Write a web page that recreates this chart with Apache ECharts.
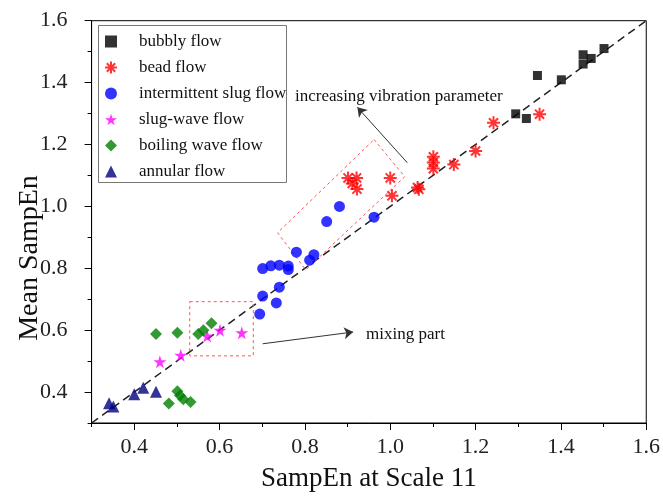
<!DOCTYPE html>
<html><head><meta charset="utf-8">
<script src="https://cdn.jsdelivr.net/npm/echarts@6/dist/echarts.min.js"></script>
<style>html,body{margin:0;padding:0;background:#fff}#c{width:663px;height:497px}</style>
</head><body><div id="c"></div><script>
// ---- data (x = SampEn at Scale 11, y = Mean SampEn) ----
const bubbly = [[1.345,1.423],[1.401,1.409],[1.452,1.490],[1.452,1.460],[1.471,1.478],[1.501,1.510],[1.294,1.299],[1.319,1.284]];
const bead = [[1.242,1.270],[1.350,1.298],[1.200,1.179],[1.149,1.135],[1.101,1.160],[1.101,1.142],[1.101,1.122],[1.064,1.061],[1.067,1.055],[1.000,1.092],[1.004,1.034],[0.901,1.092],[0.921,1.092],[0.911,1.074],[0.922,1.056]];
const slug = [[0.881,1.000],[0.851,0.951],[0.962,0.965],[0.780,0.852],[0.821,0.844],[0.811,0.826],[0.701,0.799],[0.720,0.808],[0.740,0.810],[0.761,0.807],[0.761,0.796],[0.740,0.739],[0.701,0.710],[0.733,0.688],[0.694,0.652]];
const slugWave = [[0.460,0.498],[0.509,0.519],[0.571,0.581],[0.601,0.600],[0.652,0.592]];
const boiling = [[0.451,0.588],[0.501,0.592],[0.550,0.588],[0.562,0.600],[0.581,0.622],[0.501,0.403],[0.507,0.389],[0.515,0.377],[0.532,0.368],[0.481,0.363]];
const annular = [[0.341,0.364],[0.351,0.353],[0.400,0.393],[0.421,0.414],[0.451,0.401]];
const seriesNames = ['bubbly flow','bead flow','intermittent slug flow','slug-wave flow','boiling wave flow','annular flow'];
const majorTicks = [0.4,0.6,0.8,1.0,1.2,1.4,1.6];
const minorTicks = [0.3,0.5,0.7,0.9,1.1,1.3,1.5];
// annotation shapes (data coordinates)
const diagonal = [[0.3,0.3],[1.6,1.6]];
const vibrationBox = [[0.962,1.216],[1.034,1.096],[0.802,0.795],[0.736,0.915],[0.962,1.216]];
const mixingBox = [[0.530,0.692],[0.679,0.692],[0.679,0.517],[0.530,0.517],[0.530,0.692]];
const vibrationArrow = [[1.040,1.141],[0.923,1.320]];
const mixingArrow = [[0.701,0.556],[0.913,0.594]];

const FONT = '"Liberation Serif","Times New Roman",serif';
const starPath = 'path://M50,0 L61,35 L98,35 L68,57 L79,91 L50,70 L21,91 L32,57 L2,35 L39,35 Z';
const asteriskPath = 'path://M0,50 L100,50 M50,0 L50,100 M15,15 L85,85 M85,15 L15,85';

const chart = echarts.init(document.getElementById('c'), null, {renderer:'canvas'});
function majorAxis(pos, margin) {
  return {
    type:'value', min:0.3, max:1.6, position:pos,
    axisLine:{show:true, onZero:false, lineStyle:{color:'#000', width:1}},
    axisTick:{show:true, inside:false, length:7, customValues:majorTicks, lineStyle:{color:'#000'}},
    splitLine:{show:false},
    axisLabel:{fontFamily:FONT, fontSize:22, color:'#222', margin:margin, customValues:majorTicks,
      formatter: v => v.toFixed(1)}
  };
}
function minorAxis(pos) {
  return {
    type:'value', min:0.3, max:1.6, position:pos, offset:0,
    axisLine:{show:false, onZero:false},
    axisTick:{show:true, inside:false, length:4, customValues:minorTicks, lineStyle:{color:'#000'}},
    splitLine:{show:false},
    axisLabel:{show:false}
  };
}
const xMain = majorAxis('bottom', 13);
Object.assign(xMain, {name:'SampEn at Scale 11', nameLocation:'middle', nameGap:42,
  nameTextStyle:{fontFamily:FONT, fontSize:27, color:'#111'}});
const yMain = majorAxis('left', 24);

chart.setOption({
  animation:false,
  backgroundColor:'#fff',
  grid:{left:91.6, right:16.3, top:20.7, bottom:69.7, show:true, borderColor:'#000', borderWidth:1},
  xAxis:[xMain, minorAxis('bottom')],
  yAxis:[yMain, minorAxis('left')],
  legend:{
    orient:'vertical', left:104, top:33, padding:0, itemGap:9,
    itemWidth:12, itemHeight:12,
    textStyle:{fontFamily:FONT, fontSize:17, color:'#111', padding:[0,0,0,17]},
    data: seriesNames
  },
  graphic:[
    {type:'rect', shape:{x:98.5, y:25.5, width:188, height:157}, style:{fill:'none', stroke:'#777', lineWidth:1}, z:-1},
    {type:'text', x:30, y:258, rotation:Math.PI/2, style:{text:'Mean SampEn', font:'28px '+FONT, fill:'#111', align:'center', verticalAlign:'middle'}},
    {type:'text', x:295, y:97, style:{text:'increasing vibration parameter', font:'17px '+FONT, fill:'#111', align:'left', verticalAlign:'middle'}},
    {type:'text', x:366, y:335, style:{text:'mixing part', font:'17px '+FONT, fill:'#111', align:'left', verticalAlign:'middle'}}
  ],
  series:[
    {type:'line', data:diagonal, symbol:'none', silent:true, z:1,
     lineStyle:{color:'#222', width:1.5, type:[8,5]},
     markLine:{silent:true, symbol:['none','arrow'], symbolSize:9, label:{show:false},
       lineStyle:{color:'#333', type:'solid', width:1},
       data:[[{coord:vibrationArrow[0]},{coord:vibrationArrow[1]}],[{coord:mixingArrow[0]},{coord:mixingArrow[1]}]]}},
    {type:'line', data:vibrationBox, symbol:'none', silent:true, z:1, lineStyle:{color:'#f55', width:1, type:[3,3]}},
    {type:'line', data:mixingBox, symbol:'none', silent:true, z:1, lineStyle:{color:'#f55', width:1, type:[3,3]}},
    {name:seriesNames[0], type:'scatter', data:bubbly, symbol:'rect', symbolSize:9, itemStyle:{color:'#000'}, z:3},
    {name:seriesNames[1], type:'scatter', data:bead, symbol:asteriskPath, symbolSize:13, itemStyle:{color:'#ff0000', borderColor:'#ff0000', borderWidth:2}, z:3},
    {name:seriesNames[2], type:'scatter', data:slug, symbol:'circle', symbolSize:11, itemStyle:{color:'#0000ff'}, z:3},
    {name:seriesNames[3], type:'scatter', data:slugWave, symbol:starPath, symbolSize:13, itemStyle:{color:'#ff00ff'}, z:3},
    {name:seriesNames[4], type:'scatter', data:boiling, symbol:'diamond', symbolSize:12, itemStyle:{color:'#008000'}, z:3},
    {name:seriesNames[5], type:'scatter', data:annular, symbol:'triangle', symbolSize:12, itemStyle:{color:'#000080'}, z:3}
  ]
});
</script></body></html>
